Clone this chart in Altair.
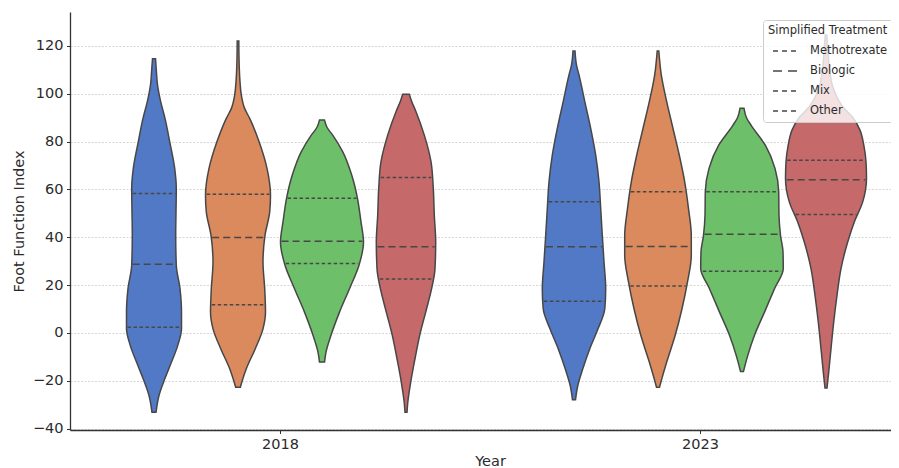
import json
import numpy as np
import pandas as pd
import altair as alt

YEARS = ["2018", "2023"]
TREATMENTS = ["Methotrexate", "Biologic", "Mix", "Other"]
COLORS = ["#5279c5", "#da8a5d", "#6ebf6a", "#c6696b"]

# Violin outlines: value (y) and half-width (density, in reference px)
V_2018_MTX = [114.6, 110, 103.7, 97, 89.7, 80, 68.8, 60.4, 50.6, 40.8, 28.3, 18.5, 8.7, 1.7, -5.2, -12.2, -19.2, -26.2, -33.2]
W_2018_MTX = [1.5, 2.3, 3.5, 6.5, 11, 15.7, 20.7, 22.3, 22, 21.7, 22.3, 26, 27.5, 27.5, 23.8, 17.5, 10.8, 5, 2]
V_2018_BIO = [122.1, 115, 110.6, 105, 99.5, 94, 89.7, 80, 68.8, 57.6, 50.6, 40.8, 29.7, 18.5, 8.7, 1.7, -6.6, -15, -22.7]
W_2018_BIO = [0.8, 1.0, 1.3, 2, 3.3, 6.5, 11.7, 21, 29, 32.5, 31.7, 27, 25, 26.7, 27.5, 25, 17.3, 8.3, 2.3]
V_2018_MIX = [89.0, 86, 82.7, 75.7, 66, 56.2, 46.4, 38, 28.3, 18.5, 8.7, -1.0, -8.0, -12.2]
W_2018_MIX = [2.5, 5, 10.7, 20.8, 29.7, 35.5, 39, 41.5, 37, 27.5, 17.5, 9, 4, 2.5]
V_2018_OTH = [99.8, 97, 92.5, 82.7, 71.6, 60.4, 49.2, 38, 26.9, 18.5, 8.7, -1.0, -10.8, -20.6, -29, -33.2]
W_2018_OTH = [3.3, 5.5, 10, 18.3, 25, 27.3, 28.3, 29.7, 29, 25.6, 19.7, 13.7, 9, 4.7, 1.8, 1]

V_2023_MTX = [117.9, 112, 107.9, 96.7, 85.5, 74.3, 63.2, 52, 40.8, 29.7, 18.5, 10.1, 1.7, -6.6, -15, -22, -28]
W_2023_MTX = [1, 2.5, 5, 10.8, 16.7, 21.7, 25, 26.7, 28.3, 30, 31.7, 30.8, 24, 15.8, 8.8, 3.8, 1.5]
V_2023_BIO = [117.9, 107.9, 96.7, 85.5, 74.3, 63.2, 52, 40.8, 32.4, 21.3, 10.1, -1.0, -12.2, -19.2, -22.7]
W_2023_BIO = [0.8, 3.3, 8.7, 15, 21.3, 26.7, 30.5, 33.3, 33.3, 29.5, 24, 17.2, 8.7, 3.8, 1.5]
V_2023_MIX = [93.9, 90, 86.9, 78.5, 68.8, 59, 49.2, 40.8, 33.9, 26.9, 18.5, 8.7, -1.0, -9.4, -16.1]
W_2023_MIX = [2, 4.5, 9, 23.3, 33, 36.7, 37, 38.5, 41, 41.3, 32.5, 22.5, 12.5, 5.8, 1.5]
V_2023_OTH = [124.6, 119, 111.3, 103, 95, 90, 84.8, 78, 71.6, 64.6, 54.8, 46.4, 38, 26.9, 15.7, 4.5, -6.6, -16.4, -23]
W_2023_OTH = [0.8, 1.7, 3.3, 6.7, 16, 27, 34, 38, 40, 40.5, 36.7, 28.3, 21.7, 15, 11, 7.7, 5, 2.7, 1]

# Quartiles per treatment (Methotrexate, Biologic, Mix, Other)
Q1_2018 = [2.4, 11.8, 29.0, 22.5]
MED_2018 = [28.7, 39.9, 38.3, 36.0]
Q3_2018 = [58.3, 58.0, 56.3, 65.0]
Q1_2023 = [13.2, 19.6, 25.8, 49.5]
MED_2023 = [36.0, 36.1, 41.3, 64.1]
Q3_2023 = [54.8, 59.0, 59.0, 72.2]

PROFILES = {
    "2018": [(V_2018_MTX, W_2018_MTX), (V_2018_BIO, W_2018_BIO), (V_2018_MIX, W_2018_MIX), (V_2018_OTH, W_2018_OTH)],
    "2023": [(V_2023_MTX, W_2023_MTX), (V_2023_BIO, W_2023_BIO), (V_2023_MIX, W_2023_MIX), (V_2023_OTH, W_2023_OTH)],
}
QUARTS = {"2018": (Q1_2018, MED_2018, Q3_2018), "2023": (Q1_2023, MED_2023, Q3_2023)}

W_SCALE = 1 / 420.0   # density units -> category units
DODGE = 0.2

vrows, qrows, mrows = [], [], []
for yi, year in enumerate(YEARS):
    for ti, tr in enumerate(TREATMENTS):
        center = yi + (ti - 1.5) * DODGE
        vs, ws = PROFILES[year][ti]
        key = f"{year}-{tr}"
        for v, w in zip(vs, ws):
            vrows.append({"key": key, "Treatment": tr, "v": v,
                          "lo": center - w * W_SCALE, "hi": center + w * W_SCALE})
        xp = np.array(vs[::-1], dtype=float)
        fp = np.array(ws[::-1], dtype=float)
        q1, med, q3 = (QUARTS[year][0][ti], QUARTS[year][1][ti], QUARTS[year][2][ti])
        for q, target in ((q1, qrows), (q3, qrows), (med, mrows)):
            w = float(np.interp(q, xp, fp)) - 1.0
            target.append({"v": q, "lo": center - w * W_SCALE, "hi": center + w * W_SCALE})

dv = pd.DataFrame(vrows)
dq = pd.DataFrame(qrows)
dm = pd.DataFrame(mrows)
# two off-scale points per legend entry (clipped away) so that only the legend shows
dl = pd.DataFrame({"label": TREATMENTS * 2,
                   "v": [300] * 8,
                   "lo": [0] * 4 + [1] * 4})

FONT = "DejaVu Sans"
TXT = "#2b2b2b"
X_DOMAIN = [-0.5, -0.5 + 821 / 420.0]
Y_DOMAIN = [-40.6, 134.2]

label_expr = json.dumps(YEARS) + "[round(datum.value)]"

xenc = alt.X("lo:Q", scale=alt.Scale(domain=X_DOMAIN, nice=False, zero=False),
             axis=alt.Axis(values=[0, 1], labelExpr=label_expr, title="Year", grid=False,
                           titleX=420, titlePadding=4))
yenc = alt.Y("v:Q", scale=alt.Scale(domain=Y_DOMAIN, nice=False, zero=False),
             axis=alt.Axis(values=list(range(-40, 121, 20)), title="Foot Function Index",
                           grid=True, titleX=-44))

violins = alt.Chart(dv).mark_area(orient="horizontal", stroke="#474747", strokeWidth=1.5,
                                  opacity=1, clip=True, interpolate="monotone").encode(
    x=xenc, x2="hi:Q", y=yenc,
    color=alt.Color("Treatment:N", scale=alt.Scale(domain=TREATMENTS, range=COLORS), legend=None),
    detail="key:N",
)

qlines = alt.Chart(dq).mark_rule(color="#474747", strokeWidth=1.5, strokeDash=[3.5, 2.5]).encode(
    x=alt.X("lo:Q"), x2="hi:Q", y=alt.Y("v:Q"))
mlines = alt.Chart(dm).mark_rule(color="#474747", strokeWidth=1.5, strokeDash=[7, 4]).encode(
    x=alt.X("lo:Q"), x2="hi:Q", y=alt.Y("v:Q"))

legend_layer = alt.Chart(dl).mark_line(color="#474747", strokeWidth=1.5, clip=True).encode(
    x=alt.X("lo:Q"),
    y=alt.Y("v:Q"),
    strokeDash=alt.StrokeDash(
        "label:N",
        sort=TREATMENTS,
        scale=alt.Scale(range=[[5, 4], [9, 6], [5, 4], [5, 4]]),
        legend=alt.Legend(title="Simplified Treatment", orient="none", legendX=693, legendY=8,
                          symbolType="stroke", symbolSize=729, symbolStrokeWidth=1.5,
                          symbolStrokeColor="#474747", labelFontSize=11.5, titleFontSize=11.5,
                          titleFontWeight="normal", fillColor="rgba(255,255,255,0.8)",
                          strokeColor="#cccccc", padding=5, cornerRadius=3,
                          symbolOffset=4, labelOffset=9, titleColor=TXT, labelColor=TXT,
                          labelFont=FONT, titleFont=FONT, rowPadding=-3, titlePadding=0),
    ),
)

chart = alt.layer(violins, qlines, mlines, legend_layer).properties(
    width=821, height=418,
    autosize=alt.AutoSizeParams(type="none"),
    padding={"left": 62, "top": 4, "right": 0, "bottom": 38},
).configure_view(stroke=None).configure_axis(
    labelFont=FONT, titleFont=FONT, labelFontSize=14.5, titleFontSize=14.5,
    labelColor=TXT, titleColor=TXT, titleFontWeight="normal",
    domainColor="#333333", domainWidth=1.3, tickColor="#333333", tickSize=3.5,
    labelPadding=3.5, gridColor="#cccccc", gridDash=[2, 1.5], gridWidth=0.8,
)

chart.save("out.html", embed_options={"renderer": "svg", "actions": False})
